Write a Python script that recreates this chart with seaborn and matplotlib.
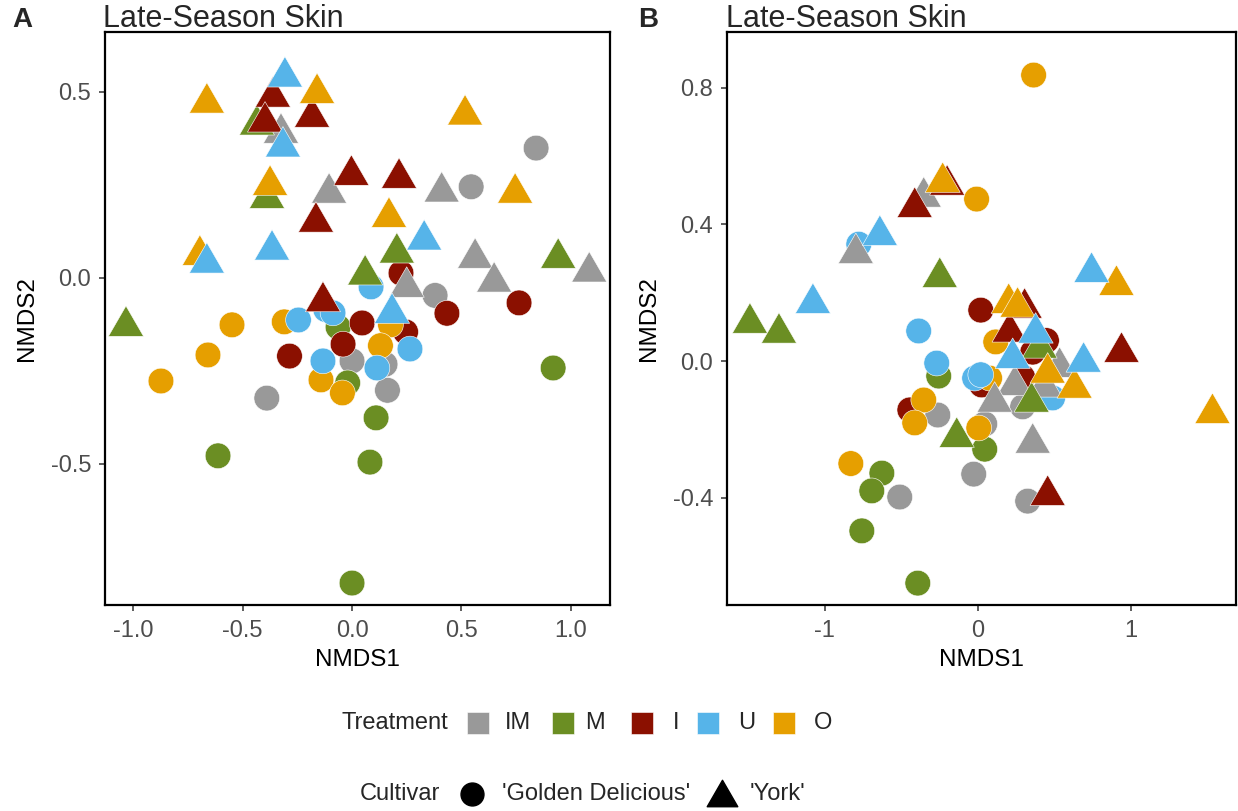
import numpy as np
import pandas as pd
import matplotlib
matplotlib.use("Agg")
import matplotlib.pyplot as plt
from matplotlib.path import Path
from matplotlib.lines import Line2D
import seaborn as sns

# ---------------- data ----------------
treatments = ["IM", "M", "I", "U", "O"]
palette = {"IM": "#999999", "M": "#6B8E23", "I": "#8B1000", "U": "#56B4E9", "O": "#E69F00"}
cultivars = ["'Golden Delicious'", "'York'"]

# Panel A - Golden Delicious
a_gd_trt = ["IM"] * 7 + ["M"] * 7 + ["I"] * 7 + ["O"] * 8 + ["U"] * 7
a_gd_x = [0.842, 0.545, 0.38, 0.0, 0.151, 0.162, -0.39,
          -0.064, -0.02, 0.11, 0.082, 0.92, 0.0, -0.613,
          0.224, 0.764, 0.434, 0.046, 0.245, -0.041, -0.286,
          -0.549, -0.659, -0.874, -0.31, 0.176, 0.13, -0.142, -0.044,
          0.087, -0.12, -0.087, -0.245, 0.265, -0.133, 0.114]
a_gd_y = [0.349, 0.245, -0.047, -0.223, -0.232, -0.302, -0.323,
          -0.132, -0.282, -0.376, -0.495, -0.242, -0.82, -0.478,
          0.013, -0.067, -0.095, -0.121, -0.145, -0.178, -0.21,
          -0.126, -0.207, -0.277, -0.118, -0.126, -0.182, -0.274, -0.309,
          -0.024, -0.085, -0.094, -0.113, -0.191, -0.223, -0.242]

# Panel A - York
a_yk_trt = ["IM"] * 7 + ["M"] * 6 + ["I"] * 7 + ["O"] * 7 + ["U"] * 6
a_yk_x = [-0.325, -0.105, 0.41, 0.563, 1.085, 0.65, 0.25,
          -0.435, -0.389, 0.205, 0.06, 0.943, -1.034,
          -0.362, -0.183, -0.398, -0.003, 0.215, -0.165, -0.133,
          -0.664, -0.16, 0.517, -0.375, 0.746, 0.169, -0.696,
          -0.307, -0.316, -0.366, -0.664, 0.33, 0.183]
a_yk_y = [0.403, 0.242, 0.245, 0.067, 0.03, 0.003, -0.011,
          0.425, 0.228, 0.081, 0.022, 0.067, -0.116,
          0.50, 0.446, 0.433, 0.29, 0.282, 0.164, -0.05,
          0.484, 0.51, 0.452, 0.263, 0.242, 0.177, 0.075,
          0.554, 0.366, 0.089, 0.054, 0.116, -0.081]

# Panel B - Golden Delicious
b_gd_trt = ["IM"] * 6 + ["M"] * 6 + ["I"] * 6 + ["O"] * 8 + ["U"] * 6
b_gd_x = [-0.261, -0.51, -0.026, 0.046, 0.294, 0.327,
          -0.255, 0.046, -0.627, -0.693, -0.758, -0.392,
          0.02, 0.45, 0.36, 0.294, 0.026, -0.444,
          0.366, -0.007, 0.118, 0.078, -0.353, -0.412, 0.007, -0.83,
          -0.386, -0.778, -0.268, -0.02, 0.02, 0.49]
b_gd_y = [-0.158, -0.398, -0.331, -0.184, -0.134, -0.41,
          -0.044, -0.258, -0.328, -0.38, -0.497, -0.65,
          0.149, 0.06, 0.026, -0.047, -0.07, -0.143,
          0.837, 0.474, 0.056, -0.05, -0.114, -0.181, -0.196, -0.3,
          0.088, 0.342, -0.006, -0.05, -0.04, -0.108]

# Panel B - York
b_yk_trt = ["IM"] * 7 + ["M"] * 6 + ["I"] * 6 + ["O"] * 7 + ["U"] * 6
b_yk_x = [-0.353, -0.797, 0.242, 0.536, 0.438, 0.111, 0.36,
          -0.248, -1.49, -1.30, 0.405, 0.353, -0.137,
          -0.2, -0.412, 0.307, 0.209, 0.941, 0.458,
          -0.229, 0.203, 0.261, 0.908, 0.458, 0.634, 1.536,
          -0.64, -1.078, 0.745, 0.379, 0.229, 0.693]
b_yk_y = [0.495, 0.33, -0.056, -0.003, -0.061, -0.105, -0.225,
          0.26, 0.126, 0.097, 0.053, -0.105, -0.208,
          0.53, 0.465, 0.17, 0.1, 0.041, -0.378,
          0.538, 0.184, 0.173, 0.237, -0.02, -0.064, -0.138,
          0.383, 0.184, 0.275, 0.097, 0.023, 0.012]

a_xticks = [-1.0, -0.5, 0.0, 0.5, 1.0]
a_xlabels = ["-1.0", "-0.5", "0.0", "0.5", "1.0"]
a_yticks = [-0.5, 0.0, 0.5]
a_ylabels = ["-0.5", "0.0", "0.5"]
b_xticks = [-1, 0, 1]
b_xlabels = ["-1", "0", "1"]
b_yticks = [-0.4, 0.0, 0.4, 0.8]
b_ylabels = ["-0.4", "0.0", "0.4", "0.8"]

# ---------------- style ----------------
sns.set_style("white")
plt.rcParams["font.family"] = ["Liberation Sans", "DejaVu Sans"]

W, H = 1238, 811
fig = plt.figure(figsize=(W / 100, H / 100), dpi=100)

tri = Path([(0, 1), (-1.1547, -1), (1.1547, -1), (0, 1)],
           [Path.MOVETO, Path.LINETO, Path.LINETO, Path.CLOSEPOLY])

CIRC_S = 342
TRI_S = 640
TICK_FS = 17
LAB_FS = 17.5
TITLE_FS = 22


def panel(rect, gd, yk, xlim, ylim, xt, xl, yt, yl, letter, letter_x, title_x):
    ax = fig.add_axes(rect)
    df_gd = pd.DataFrame({"NMDS1": gd[1], "NMDS2": gd[2], "Treatment": gd[0]})
    df_yk = pd.DataFrame({"NMDS1": yk[1], "NMDS2": yk[2], "Treatment": yk[0]})
    sns.scatterplot(data=df_gd, x="NMDS1", y="NMDS2", hue="Treatment",
                    palette=palette, marker="o", s=CIRC_S, edgecolor="white",
                    linewidth=0.4, legend=False, ax=ax, alpha=1)
    sns.scatterplot(data=df_yk, x="NMDS1", y="NMDS2", hue="Treatment",
                    palette=palette, marker=tri, s=TRI_S, edgecolor="white",
                    linewidth=0.4, legend=False, ax=ax, alpha=1)
    ax.set_xlim(*xlim)
    ax.set_ylim(*ylim)
    ax.set_xticks(xt)
    ax.set_xticklabels(xl)
    ax.set_yticks(yt)
    ax.set_yticklabels(yl)
    ax.tick_params(axis="both", which="both", length=4, width=1.1,
                   color="#333333", labelsize=TICK_FS, labelcolor="#4D4D4D",
                   bottom=True, left=True)
    ax.tick_params(axis="x", pad=7)
    ax.tick_params(axis="y", pad=6)
    for side, sp in ax.spines.items():
        sp.set_visible(True)
        sp.set_color("black")
        sp.set_linewidth(1.6)
    ax.set_xlabel("NMDS1", fontsize=LAB_FS, color="black", labelpad=5)
    ax.set_ylabel("NMDS2", fontsize=LAB_FS, color="black", labelpad=9)
    ax.grid(False)
    fig.text(title_x / W, 1 - 19 / H, "Late-Season Skin", fontsize=TITLE_FS,
             ha="left", va="center")
    fig.text(letter_x / W, 1 - 20 / H, letter, fontsize=20, fontweight="bold",
             ha="left", va="center")
    return ax


axA = panel([105 / W, 1 - 605 / H, 505 / W, 573 / H],
            (a_gd_trt, a_gd_x, a_gd_y), (a_yk_trt, a_yk_x, a_yk_y),
            (-1.13, 1.18), (-0.879, 0.661),
            a_xticks, a_xlabels, a_yticks, a_ylabels, "A", 12, 103)
axB = panel([727 / W, 1 - 605 / H, 509 / W, 573 / H],
            (b_gd_trt, b_gd_x, b_gd_y), (b_yk_trt, b_yk_x, b_yk_y),
            (-1.64, 1.69), (-0.714, 0.963),
            b_xticks, b_xlabels, b_yticks, b_ylabels, "B", 638, 726)

# ---------------- legend (manual layout) ----------------
lg = fig.add_axes([0, 0, 1, 1], facecolor="none")
lg.set_xlim(0, W)
lg.set_ylim(H, 0)
lg.axis("off")
LEG_FS = 17

row1_y = 723
lg.text(341, row1_y, "Treatment", fontsize=LEG_FS, va="center", ha="left")
key_x = [478, 563, 642, 708, 784]
lab_x = [505, 585, 673, 738, 814]
for t, kx, tx in zip(treatments, key_x, lab_x):
    lg.add_line(Line2D([kx], [row1_y], marker="s", markersize=16.5,
                       color=palette[t], markeredgecolor="white",
                       markeredgewidth=0.4, linestyle="none"))
    lg.text(tx, row1_y, t, fontsize=LEG_FS, va="center", ha="left")

row2_y = 794
lg.text(360, row2_y, "Cultivar", fontsize=LEG_FS, va="center", ha="left")
lg.add_line(Line2D([471.5], [row2_y], marker="o", markersize=16.5,
                   color="black", linestyle="none"))
lg.text(502, row2_y, cultivars[0], fontsize=LEG_FS, va="center", ha="left")
lg.add_line(Line2D([722], [row2_y - 1], marker=tri, markersize=22,
                   color="black", linestyle="none"))
lg.text(750, row2_y, cultivars[1], fontsize=LEG_FS, va="center", ha="left")

fig.savefig("out.png", dpi=100)
